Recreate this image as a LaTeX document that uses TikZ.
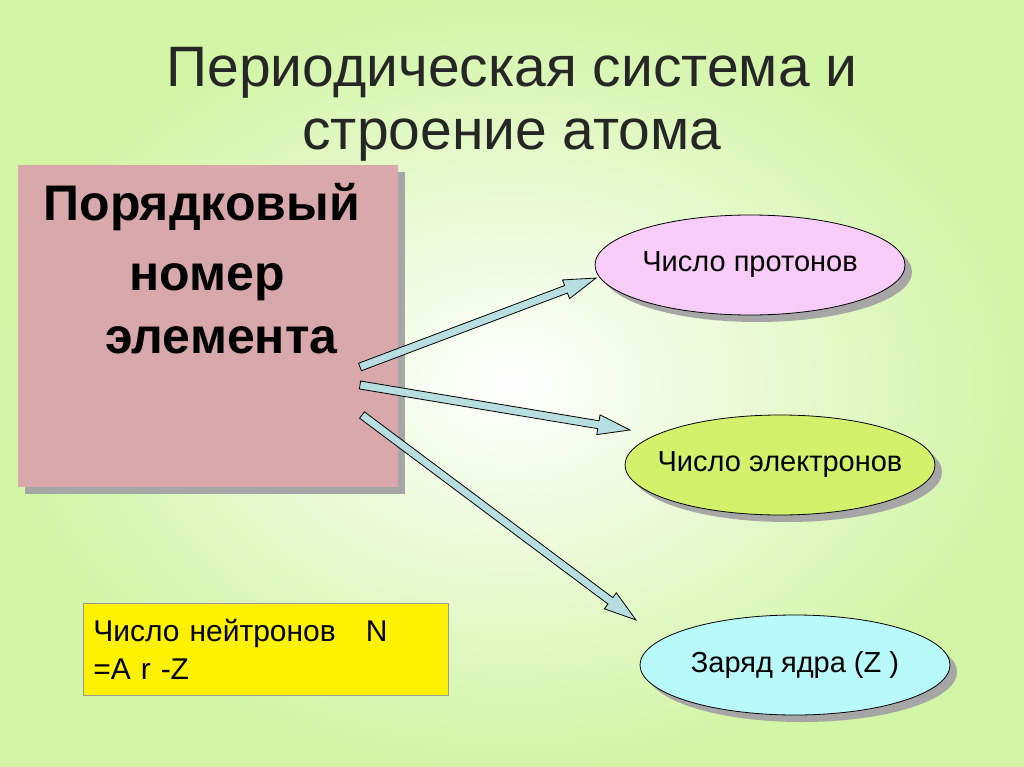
\documentclass[tikz,border=0pt]{standalone}
\usepackage{fontspec}
\setmainfont{Liberation Sans}
\usetikzlibrary{calc,shapes.geometric}
\definecolor{bgg}{HTML}{D2F5A6}
\definecolor{pinkbox}{HTML}{D8A8AA}
\definecolor{arr}{HTML}{B7DFE2}
\definecolor{ell1}{HTML}{F8CCF8}
\definecolor{ell2}{HTML}{D2F26C}
\definecolor{ell3}{HTML}{B8FAFA}
\tikzset{
 oval/.style={draw=black,line width=0.8pt},
 ovaltext/.style={inner sep=0pt,font=\fontsize{29}{35}\selectfont},
 shad/.style={fill=black!35},
 blockarrow/.style={draw=black,fill=arr,line width=0.8pt}
}
\newcommand\barrow[2]{%
 \path let \p1=($(#2)-(#1)$), \n1={atan2(\y1,\x1)}, \n2={veclen(\x1,\y1)} in
  [blockarrow,shift={(#1)},rotate=\n1]
  (0pt,-4pt) -- (\n2-32pt,-4pt) -- (\n2-32pt,-10pt) -- (\n2,0pt) -- (\n2-32pt,10pt) -- (\n2-32pt,4pt) -- (0pt,4pt) -- cycle;}
\begin{document}
\begin{tikzpicture}[x=1pt,y=-1pt]
\shade[inner color=white,outer color=bgg] (0,0) rectangle (1024,767);
\useasboundingbox (0,0) rectangle (1024,767);
\node[font=\fontsize{57}{63}\selectfont,text=black!85,align=center] (title) at (512,104) {Периодическая система и\\строение атома};
\fill[shad] (25,172) rectangle (405,494);
\fill[pinkbox] (18,165) rectangle (398,487);
\node[anchor=west,font=\bfseries\fontsize{50}{60}\selectfont] (t1) at (40,207) {Порядковый};
\node[anchor=west,font=\bfseries\fontsize{50}{60}\selectfont] (t2) at (126,282) {номер};
\node[anchor=west,font=\bfseries\fontsize{50}{60}\selectfont] (t3) at (102,340) {элемента};
\coordinate (s1) at (360,367);
\coordinate (s2) at (360,385);
\coordinate (s3) at (362,415);
\foreach \n/\c/\x/\y/\t in {e1/ell1/750/265/Число протонов, e2/ell2/780/465/Число электронов, e3/ell3/795/665/Заряд ядра (Z )}{
 \fill[shad] (\x+7,\y+7) ellipse (155pt and 50pt);
 \draw[oval,fill=\c] (\x,\y) ellipse (155pt and 50pt);
 \node[ovaltext] (\n) at (\x,\y) {\t};
}
\coordinate (h1) at (596,278);
\coordinate (h2) at (630,430);
\coordinate (h3) at (636,620);
\barrow{s1}{h1}
\barrow{s2}{h2}
\barrow{s3}{h3}
\node[fill=yellow,draw=black!40,line width=0.5pt,anchor=north west,minimum width=362pt,minimum height=92pt,text width=345pt,inner xsep=10pt,align=left,font=\fontsize{30}{38}\selectfont] (yb) at (83,603) {Число нейтронов\ \ \ N\\=A r -Z};
\end{tikzpicture}
\end{document}
